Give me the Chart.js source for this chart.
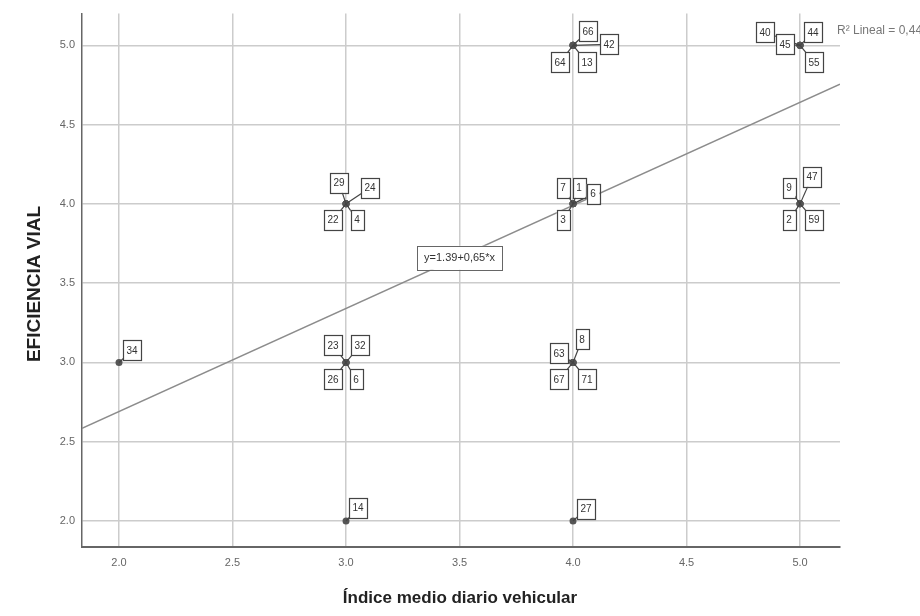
<!DOCTYPE html>
<html>
<head>
<meta charset="utf-8">
<script src="https://cdn.jsdelivr.net/npm/chart.js@4.4.1/dist/chart.umd.min.js"></script>
<style>
  html, body { margin: 0; padding: 0; background: #ffffff; }
  canvas { display: block; }
</style>
</head>
<body>
<canvas id="chart" width="920" height="616"></canvas>
<script>
// Observed cases: daily vehicle index (x) against road efficiency (y)
const caseIds = ['34', '29', '24', '22', '4', '23', '32', '26', '6', '14',
                 '66', '42', '64', '13', '7', '1', '6', '3', '8', '63', '67', '71', '27',
                 '40', '45', '44', '55', '9', '47', '2', '59'];
const indiceVehicular = [2, 3, 3, 3, 3, 3, 3, 3, 3, 3,
                         4, 4, 4, 4, 4, 4, 4, 4, 4, 4, 4, 4, 4,
                         5, 5, 5, 5, 5, 5, 5, 5];
const eficienciaVial = [3, 4, 4, 4, 4, 3, 3, 3, 3, 2,
                        5, 5, 5, 5, 4, 4, 4, 4, 3, 3, 3, 3, 2,
                        5, 5, 5, 5, 4, 4, 4, 4];

// Linear fit reported on the chart: y = 1.39 + 0.65 x
const fitIntercept = 1.39;
const fitSlope = 0.65;
const fitLabel = 'y=1.39+0,65*x';
const rSquaredLabel = 'R\u00B2 Lineal = 0,444';

// Axis ranges and tick labels
const xRange = [1.837, 5.176];
const yRange = [1.836, 5.2];
const tickStep = 0.5;

// Where each case label box sits relative to its point (pixels)
const labelOffsets = [
  [13, -12], [-7, -21], [24, -16], [-13, 16], [11, 16],
  [-13, -17], [14, -17], [-13, 17], [10, 17], [12, -13],
  [15, -14], [36, -1], [-13, 17], [14, 17],
  [-10, -16], [6, -16], [20, -10], [-10, 16],
  [9, -23], [-14, -9], [-14, 17], [14, 17], [13, -12],
  [-35, -13], [-15, -1], [13, -13], [14, 17],
  [-11, -16], [12, -27], [-11, 16], [14, 16]
];

const points = indiceVehicular.map((x, i) => ({ x: x, y: eficienciaVial[i] }));
const fitLine = xRange.map(x => ({ x: x, y: fitIntercept + fitSlope * x }));

const FONT = '"Liberation Sans", Arial, sans-serif';

const annotations = {
  id: 'annotations',
  afterDatasetsDraw(chart) {
    const ctx = chart.ctx;
    const xs = chart.scales.x, ys = chart.scales.y;
    ctx.save();

    // Case labels with leader lines
    ctx.font = '10px ' + FONT;
    ctx.textAlign = 'center';
    ctx.textBaseline = 'middle';
    points.forEach((p, i) => {
      const px = xs.getPixelForValue(p.x);
      const py = ys.getPixelForValue(p.y);
      const cx = px + labelOffsets[i][0];
      const cy = py + labelOffsets[i][1];
      ctx.strokeStyle = '#444';
      ctx.lineWidth = 1.2;
      ctx.beginPath();
      ctx.moveTo(px, py);
      ctx.lineTo(cx, cy);
      ctx.stroke();
    });
    points.forEach((p, i) => {
      const px = xs.getPixelForValue(p.x);
      const py = ys.getPixelForValue(p.y);
      const cx = px + labelOffsets[i][0];
      const cy = py + labelOffsets[i][1];
      const w = ctx.measureText(caseIds[i]).width + 7;
      const h = 20;
      ctx.fillStyle = '#ffffff';
      ctx.fillRect(cx - w / 2, cy - h / 2, w, h);
      ctx.strokeStyle = '#444';
      ctx.lineWidth = 1.2;
      ctx.strokeRect(Math.round(cx - w / 2) + 0.5, Math.round(cy - h / 2) + 0.5, Math.round(w), h);
      ctx.fillStyle = '#333';
      ctx.fillText(caseIds[i], cx, cy + 0.5);
    });

    // Fit equation box, sitting on the fit line
    const ex = xs.getPixelForValue(3.5), ey = ys.getPixelForValue(3.66);
    ctx.font = '11px ' + FONT;
    const ew = ctx.measureText(fitLabel).width + 14, eh = 24;
    ctx.fillStyle = '#ffffff';
    ctx.fillRect(ex - ew / 2, ey - eh / 2, ew, eh);
    ctx.strokeStyle = '#666';
    ctx.lineWidth = 1;
    ctx.strokeRect(Math.round(ex - ew / 2) + 0.5, Math.round(ey - eh / 2) + 0.5, Math.round(ew), eh);
    ctx.fillStyle = '#333';
    ctx.fillText(fitLabel, ex, ey + 0.5);

    // R squared note at the end of the plot area
    ctx.font = '12px ' + FONT;
    ctx.textAlign = 'left';
    ctx.fillStyle = '#777';
    ctx.fillText(rSquaredLabel, chart.chartArea.right - 3, ys.getPixelForValue(5.09));

    // Axis titles
    ctx.fillStyle = '#222';
    ctx.font = 'bold 17px ' + FONT;
    ctx.textAlign = 'center';
    ctx.fillText('Índice medio diario vehicular', 460, 598);
    ctx.translate(35, 284);
    ctx.rotate(-Math.PI / 2);
    ctx.font = 'bold 19px ' + FONT;
    ctx.fillText('EFICIENCIA VIAL', 0, 0);
    ctx.restore();
  }
};

const axisTicks = {
  stepSize: tickStep,
  includeBounds: false,
  color: '#666',
  font: { family: FONT, size: 11 },
  callback: v => v.toFixed(1)
};

new Chart(document.getElementById('chart'), {
  type: 'scatter',
  data: {
    datasets: [
      {
        type: 'line',
        data: fitLine,
        borderColor: '#8c8c8c',
        borderWidth: 1.5,
        pointRadius: 0,
        fill: false,
        order: 2
      },
      {
        data: points,
        backgroundColor: '#555',
        borderWidth: 0,
        pointRadius: 3.5,
        order: 1
      }
    ]
  },
  options: {
    responsive: false,
    animation: false,
    layout: { padding: { top: 12, right: 80, left: 0, bottom: 0 } },
    plugins: { legend: { display: false }, tooltip: { enabled: false } },
    scales: {
      x: {
        type: 'linear',
        min: xRange[0],
        max: xRange[1],
        ticks: Object.assign({ padding: 9, maxRotation: 0 }, axisTicks),
        grid: { color: '#cccccc', lineWidth: 1.5, drawTicks: false },
        border: { color: '#666', width: 2 },
        afterFit: s => { s.height = 69; }
      },
      y: {
        type: 'linear',
        min: yRange[0],
        max: yRange[1],
        ticks: Object.assign({ padding: 7 }, axisTicks),
        grid: { color: '#cccccc', lineWidth: 1.5, drawTicks: false },
        border: { color: '#666', width: 1.5 },
        afterFit: s => { s.width = 82; }
      }
    }
  },
  plugins: [annotations]
});
</script>
</body>
</html>
